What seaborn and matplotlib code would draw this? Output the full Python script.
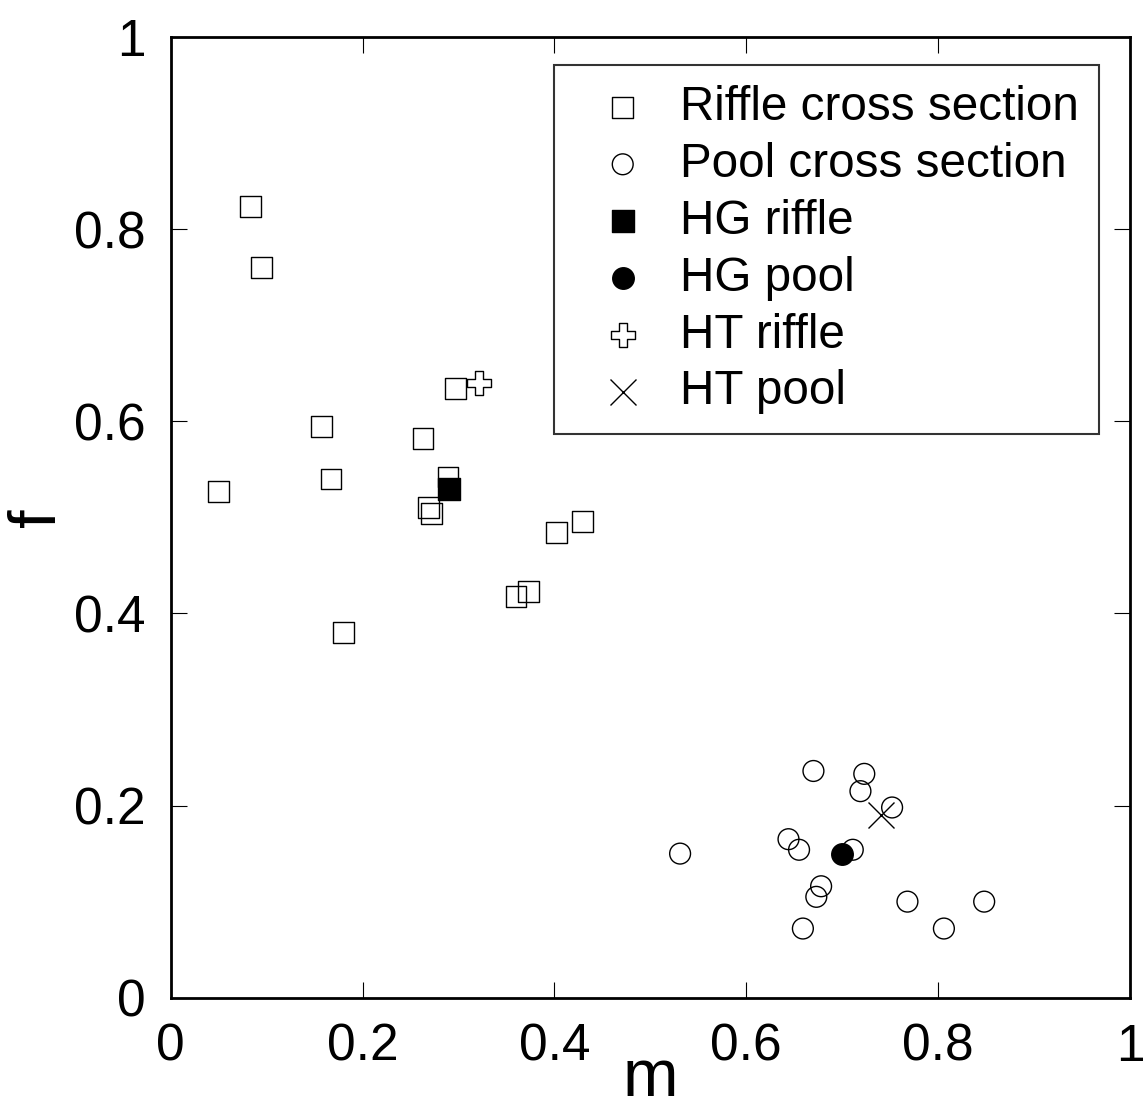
import matplotlib
matplotlib.use("Agg")
import matplotlib.pyplot as plt
import seaborn as sns
import pandas as pd

# riffle cross sections (open squares)
riffle_m = [0.083, 0.095, 0.050, 0.157, 0.167, 0.180, 0.263, 0.289, 0.269,
            0.272, 0.402, 0.429, 0.360, 0.373, 0.297]
riffle_f = [0.824, 0.760, 0.527, 0.595, 0.540, 0.380, 0.582, 0.542, 0.510,
            0.504, 0.484, 0.496, 0.418, 0.423, 0.634]

# pool cross sections (open circles)
pool_m = [0.670, 0.723, 0.719, 0.752, 0.644, 0.655, 0.531, 0.711, 0.678,
          0.673, 0.659, 0.768, 0.848, 0.806]
pool_f = [0.236, 0.233, 0.215, 0.198, 0.165, 0.154, 0.150, 0.154, 0.116,
          0.105, 0.072, 0.100, 0.100, 0.072]

hg_riffle = (0.290, 0.530)
hg_pool = (0.700, 0.150)
ht_riffle = (0.321, 0.640)
ht_pool = (0.740, 0.190)

ticks = [0, 0.2, 0.4, 0.6, 0.8, 1]
tick_labels = ["0", "0.2", "0.4", "0.6", "0.8", "1"]

sns.set_style("ticks")
plt.rcParams["font.family"] = ["Liberation Sans", "DejaVu Sans"]
plt.rcParams["text.color"] = "black"
plt.rcParams["axes.labelcolor"] = "black"
plt.rcParams["xtick.color"] = "black"
plt.rcParams["ytick.color"] = "black"

fig = plt.figure(figsize=(11.45, 11.15), dpi=100)
ax = fig.add_axes([0.1491, 0.1052, 0.8378, 0.8616])

riffle = pd.DataFrame({"m": riffle_m, "f": riffle_f})
pool = pd.DataFrame({"m": pool_m, "f": pool_f})

sns.scatterplot(data=riffle, x="m", y="f", marker="s", s=225, color="black",
                facecolor="none", edgecolor="black", linewidth=1.0,
                label="Riffle cross section", ax=ax)
sns.scatterplot(data=pool, x="m", y="f", marker="o", s=225, color="black",
                facecolor="none", edgecolor="black", linewidth=1.0,
                label="Pool cross section", ax=ax)
sns.scatterplot(x=[hg_riffle[0]], y=[hg_riffle[1]], marker="s", s=240,
                color="black", edgecolor="black", linewidth=1.0,
                label="HG riffle", ax=ax)
sns.scatterplot(x=[hg_pool[0]], y=[hg_pool[1]], marker="o", s=240,
                color="black", edgecolor="black", linewidth=1.0,
                label="HG pool", ax=ax)
sns.scatterplot(x=[ht_riffle[0]], y=[ht_riffle[1]], marker="P", s=300,
                color="black", facecolor="none", edgecolor="black",
                linewidth=1.0, label="HT riffle", ax=ax)
sns.scatterplot(x=[ht_pool[0]], y=[ht_pool[1]], marker="x", s=350,
                color="black", linewidth=1.0, label="HT pool", ax=ax)

ax.set_xlim(0, 1)
ax.set_ylim(0, 1)
ax.set_xticks(ticks)
ax.set_xticklabels(tick_labels)
ax.set_yticks(ticks)
ax.set_yticklabels(tick_labels)
ax.tick_params(axis="both", direction="in", length=11.5, width=0.8,
               labelsize=37, top=True, right=True, colors="black")
ax.tick_params(axis="x", pad=18)
ax.tick_params(axis="y", pad=18)
for sp in ax.spines.values():
    sp.set_linewidth(2.0)
    sp.set_color("black")

ax.set_xlabel("m", fontsize=48, labelpad=-17)
ax.set_ylabel("f", fontsize=48, labelpad=4)

leg = ax.legend(loc="upper right", bbox_to_anchor=(0.9677, 0.971),
                borderaxespad=0, fontsize=34.3, frameon=True, fancybox=False,
                borderpad=0.42, labelspacing=0.25, handlelength=2.05,
                handletextpad=0.18)
leg.get_frame().set_edgecolor("black")
leg.get_frame().set_linewidth(1.5)
for t in leg.get_texts():
    t.set_color("black")

fig.savefig("out.png", dpi=100)
